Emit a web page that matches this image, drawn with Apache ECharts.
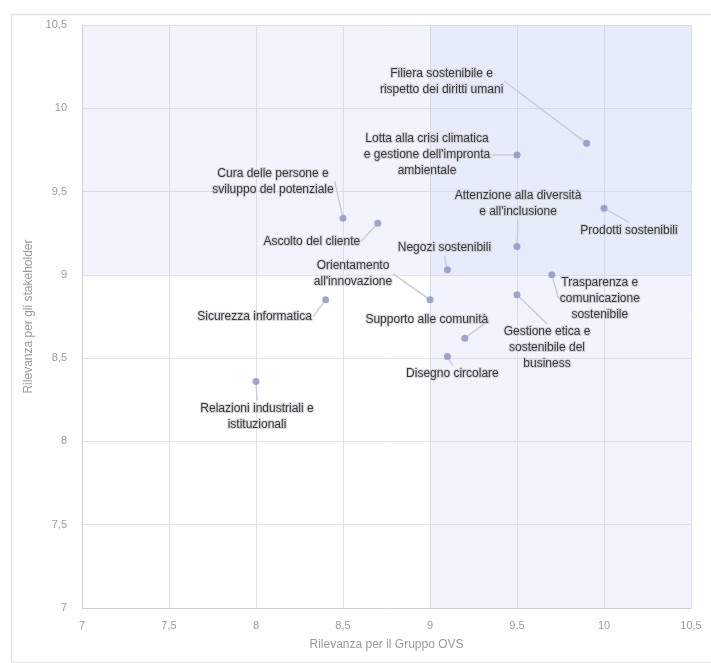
<!DOCTYPE html>
<html>
<head>
<meta charset="utf-8">
<script src="https://cdn.jsdelivr.net/npm/echarts@6/dist/echarts.min.js"></script>
<style>html,body{margin:0;padding:0;background:#fff}#c{width:711px;height:663px}</style>
</head>
<body>
<div id="c"></div>
<script>
// Data
var names = [
  "Relazioni industriali e\nistituzionali",
  "Sicurezza informatica",
  "Cura delle persone e\nsviluppo del potenziale",
  "Ascolto del cliente",
  "Orientamento\nall'innovazione",
  "Negozi sostenibili",
  "Attenzione alla diversità\ne all'inclusione",
  "Supporto alle comunità",
  "Disegno circolare",
  "Lotta alla crisi climatica\ne gestione dell'impronta\nambientale",
  "Filiera sostenibile e\nrispetto dei diritti umani",
  "Prodotti sostenibili",
  "Trasparenza e\ncomunicazione\nsostenibile",
  "Gestione etica e\nsostenibile del\nbusiness"
];
var groupRelevance = [8.0, 8.4, 8.5, 8.7, 9.0, 9.1, 9.5, 9.2, 9.1, 9.5, 9.9, 10.0, 9.7, 9.5];
var stakeholderRelevance = [8.36, 8.85, 9.34, 9.31, 8.85, 9.03, 9.17, 8.62, 8.51, 9.72, 9.79, 9.40, 9.0, 8.88];
var tickValues = [7, 7.5, 8, 8.5, 9, 9.5, 10, 10.5];

// Label placement (label centre relative to point, px)
var labelOffsets = [
  [1, 35], [-71, 17], [-70, -37], [-66, 18], [-77, -26], [-3, -22], [1, -43],
  [-38, -18], [5, 17], [-90, 0], [-145, -62], [25, 22], [48, 24], [30, 53]
];

var data = names.map(function (n, i) {
  return { name: n, value: [groupRelevance[i], stakeholderRelevance[i]] };
});

var fmt = function (v) { return String(v).replace('.', ','); };
var chart = echarts.init(document.getElementById('c'));
chart.setOption({
  animation: false,
  graphic: [{
    type: 'rect', left: 9, top: 12, z: -10, silent: true,
    shape: { width: 720, height: 648 },
    style: { fill: 'none', stroke: '#e4e4e4', lineWidth: 1.5 }
  }],
  grid: { left: 82, right: 20, top: 25, bottom: 55 },
  xAxis: {
    type: 'value', min: 7, max: 10.5, interval: 0.5,
    name: 'Rilevanza per il Gruppo OVS', nameLocation: 'middle', nameGap: 31,
    nameTextStyle: { color: '#9a9a9a', fontSize: 12, fontFamily: 'Liberation Sans' },
    axisLine: { lineStyle: { color: '#d0d0d0' } },
    axisTick: { show: false },
    axisLabel: { color: '#9a9a9a', fontSize: 11, fontFamily: 'Liberation Sans', formatter: fmt, margin: 12 },
    splitLine: { lineStyle: { color: '#e2e2e2' } }
  },
  yAxis: {
    type: 'value', min: 7, max: 10.5, interval: 0.5,
    name: 'Rilevanza per gli stakeholder', nameLocation: 'middle', nameGap: 31,
    nameTextStyle: { color: '#9a9a9a', fontSize: 12, fontFamily: 'Liberation Sans' },
    axisLine: { show: true, lineStyle: { color: '#d0d0d0' } },
    axisTick: { show: false },
    axisLabel: { color: '#9a9a9a', fontSize: 11, fontFamily: 'Liberation Sans', formatter: fmt, margin: 15 },
    splitLine: { lineStyle: { color: '#e2e2e2' } }
  },
  series: [{
    type: 'scatter',
    data: data,
    symbolSize: 7,
    itemStyle: { color: '#8791c6' },
    markArea: {
      silent: true,
      itemStyle: { color: 'rgba(190,207,240,0.22)' },
      data: [
        [{ xAxis: 9, yAxis: 7 }, { xAxis: 10.5, yAxis: 10.5 }],
        [{ xAxis: 7, yAxis: 9 }, { xAxis: 10.5, yAxis: 10.5 }]
      ]
    },
    label: {
      show: true, position: 'inside', formatter: '{b}',
      color: '#111', fontSize: 12, fontFamily: 'Liberation Sans', lineHeight: 16,
      align: 'center',
      textBorderColor: 'rgba(200,200,206,0.9)', textBorderWidth: 2
    },
    labelLine: { show: true, lineStyle: { color: '#cbcdd6', width: 1.5 } },
    labelLayout: function (p) {
      var o = labelOffsets[p.dataIndex];
      var cx = p.rect.x + p.rect.width / 2, cy = p.rect.y + p.rect.height / 2;
      var lx = p.labelRect.x + p.labelRect.width / 2, ly = p.labelRect.y + p.labelRect.height / 2;
      return { dx: cx + o[0] - lx, dy: cy + o[1] - ly };
    }
  }]
});
</script>
</body>
</html>
